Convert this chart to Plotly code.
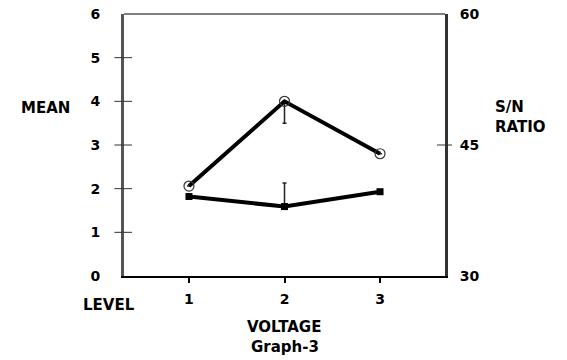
import plotly.graph_objects as go

# ---- data ----
levels = [1, 2, 3]
level_labels = ["1", "2", "3"]
mean_values = [1.82, 1.59, 1.93]          # MEAN (left axis)
sn_values = [40.3, 50.0, 44.0]            # S/N RATIO (right axis)
mean_err_plus = [0, 0.54, 0]
sn_err_minus = [0, 2.5, 0]
mean_ticks = [0, 1, 2, 3, 4, 5, 6]
sn_ticks = [30, 45, 60]

FONT = "DejaVu Sans"
fig = go.Figure()

fig.add_trace(go.Scatter(
    x=levels, y=mean_values, mode="lines+markers",
    line=dict(color="black", width=4),
    marker=dict(symbol="square", size=7, color="black"),
    error_y=dict(type="data", symmetric=False, array=mean_err_plus,
                 arrayminus=[0, 0, 0], color="#222", thickness=1.5, width=2),
    showlegend=False, yaxis="y"))

fig.add_trace(go.Scatter(
    x=levels, y=sn_values, mode="lines+markers",
    line=dict(color="black", width=4),
    marker=dict(symbol="circle-open", size=10, color="#333", line=dict(width=1.2)),
    error_y=dict(type="data", symmetric=False, array=[0, 0, 0],
                 arrayminus=sn_err_minus, color="#222", thickness=1.5, width=2),
    showlegend=False, yaxis="y2"))

tick_font = dict(family=FONT, size=14, weight="bold", color="black")
fig.update_layout(
    width=567, height=360,
    margin=dict(l=124, r=122, t=14, b=84, autoexpand=False),
    paper_bgcolor="white", plot_bgcolor="white",
    font=dict(family=FONT, size=14, color="black"),
    xaxis=dict(range=[0.32, 3.68], tickvals=levels, ticktext=level_labels,
               automargin=False,
               showgrid=False, zeroline=False, showline=True, linecolor="black",
               linewidth=2, ticks="outside", ticklen=5, tickwidth=2, tickcolor="black",
               ticklabelstandoff=4, tickfont=tick_font),
    yaxis=dict(range=[0, 6], tickvals=mean_ticks, showgrid=False, zeroline=False,
               automargin=False, ticklabeloverflow="allow",
               showline=True, linecolor="#555", linewidth=3, ticks="",
               ticklabelstandoff=18, tickfont=tick_font),
    yaxis2=dict(range=[30, 60], tickvals=sn_ticks, overlaying="y", side="right",
                automargin=False, ticklabeloverflow="allow",
                showgrid=False, zeroline=False, showline=True, linecolor="#333",
                linewidth=3, ticks="", ticklabelstandoff=9, tickfont=tick_font),
)

# crossing tick marks
for v in mean_ticks[1:-1]:
    fig.add_shape(type="line", xref="paper", yref="y", x0=-0.03, x1=0.025,
                  y0=v, y1=v, line=dict(color="#333", width=1))
fig.add_shape(type="line", xref="paper", yref="y2", x0=0.975, x1=1.022,
              y0=sn_ticks[1], y1=sn_ticks[1], line=dict(color="#333", width=1))
# top border
fig.add_shape(type="line", xref="paper", yref="paper", x0=0, x1=1, y0=1, y1=1,
              line=dict(color="black", width=1.2))

ann_font = dict(family=FONT, size=15, color="black", weight="bold")
def ann(text, x, y, align="center", xanchor="center"):
    fig.add_annotation(text=text, x=x, y=y, xref="paper", yref="paper",
                       showarrow=False, font=ann_font, align=align, xanchor=xanchor,
                       yanchor="middle")

ann("MEAN", -0.246, 0.641)
ann("LEVEL", -0.047, -0.111)
ann("VOLTAGE", 0.498, -0.195)
ann("Graph-3", 0.50, -0.271)
ann("S/N<br>RATIO", 1.150, 0.607, align="left", xanchor="left")

fig.write_html("out.html", config={"displayModeBar": False},
               post_script="document.body.style.margin='0px';")
